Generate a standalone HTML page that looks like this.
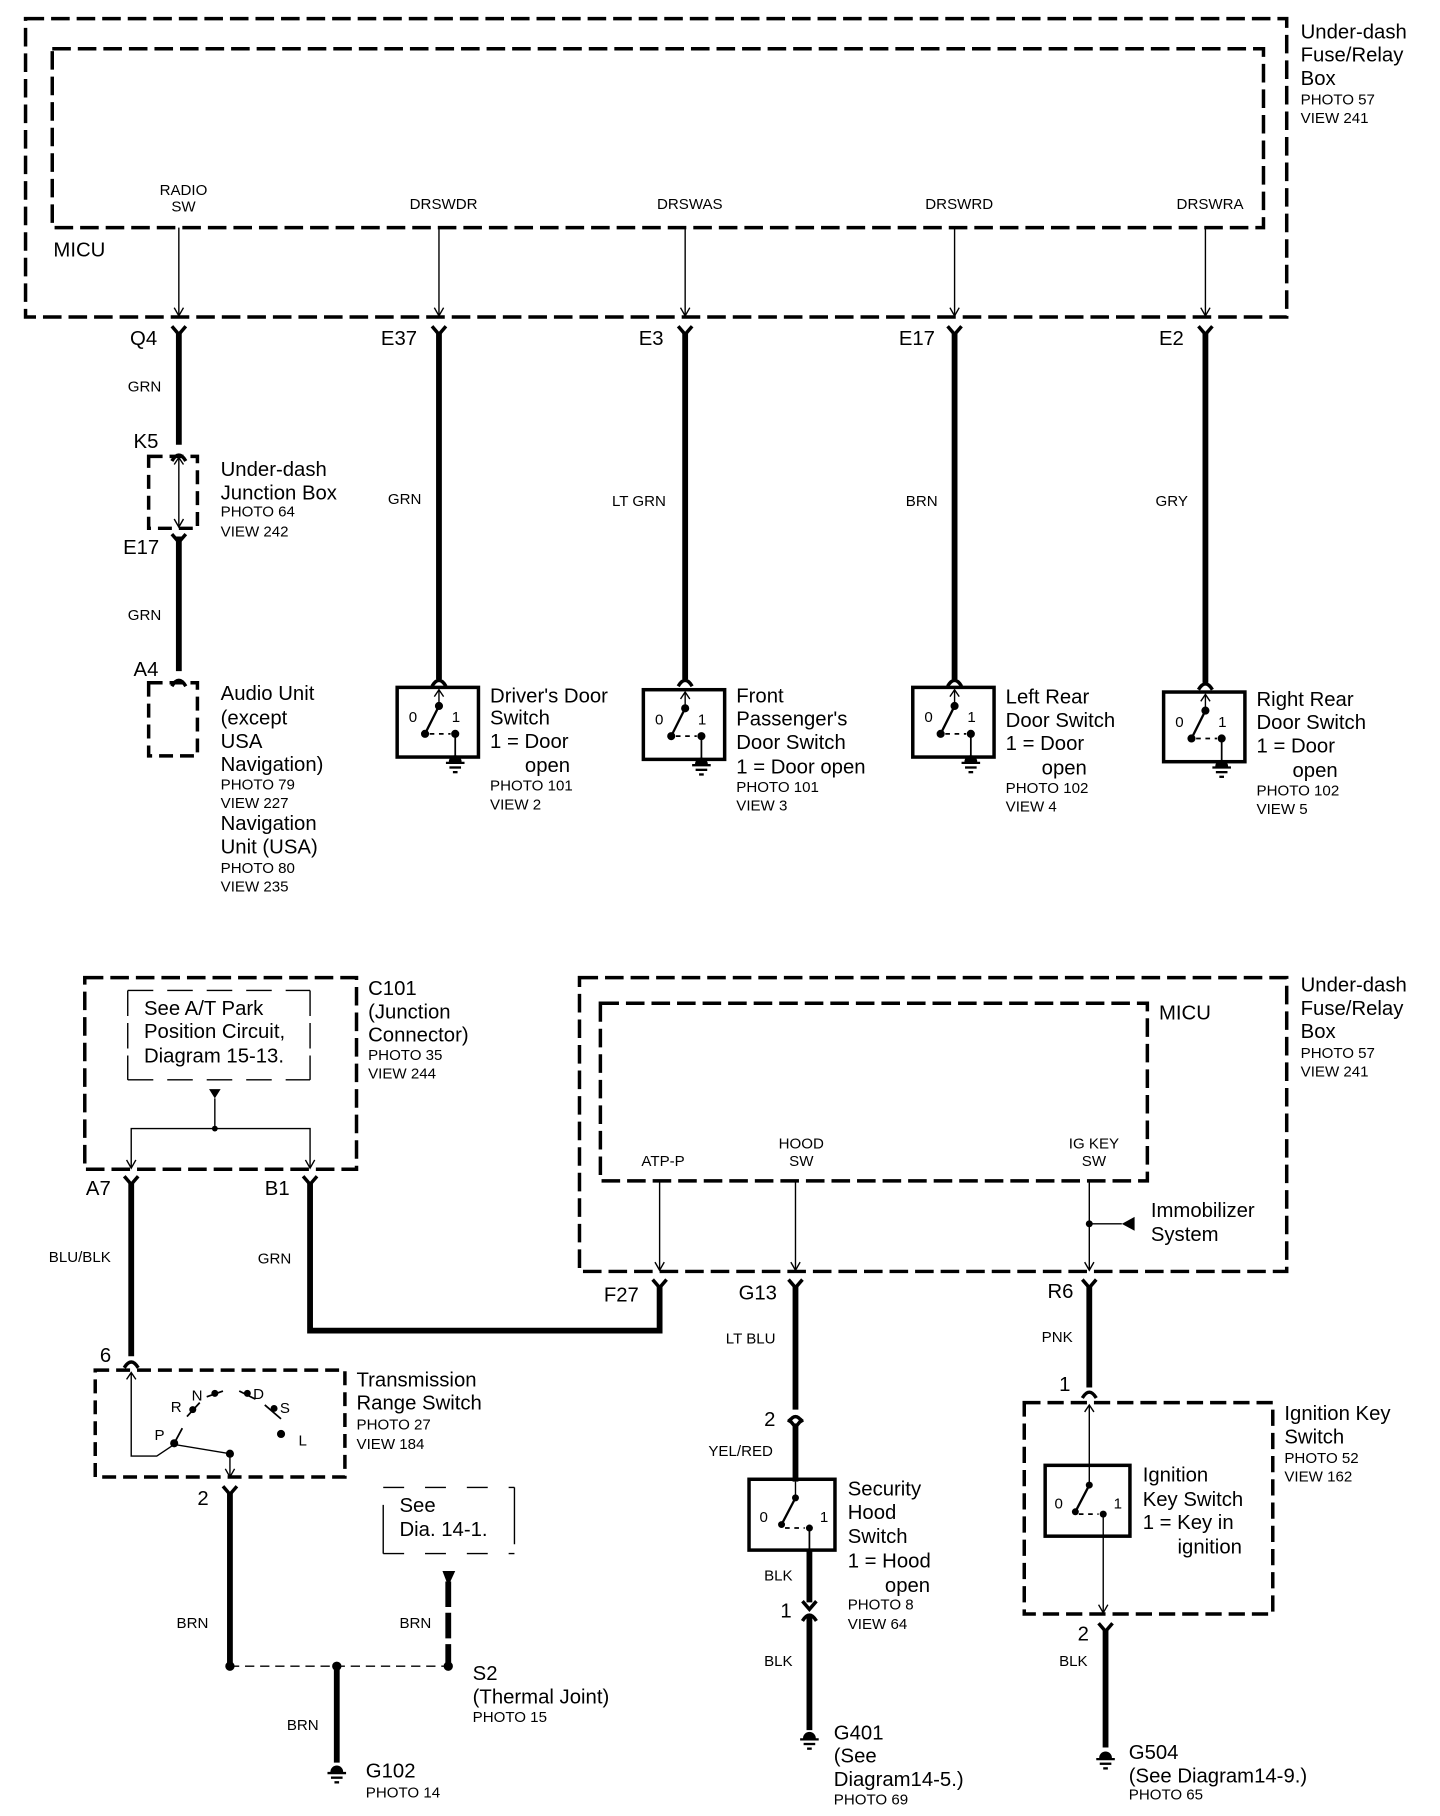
<!DOCTYPE html>
<html><head><meta charset="utf-8"><style>
html,body{margin:0;padding:0;background:#fff}
svg{display:block}
text{font-family:"Liberation Sans",Arial,sans-serif;fill:#000}
.b{font-size:17.5px}
.s{font-size:13px}
.w{font-size:13px}
</style></head><body>
<svg width="1440" height="1816" viewBox="0 0 1240 1564" preserveAspectRatio="none" xmlns="http://www.w3.org/2000/svg">
<defs>
<g id="sw" fill="none" stroke="#000">
<rect x="0" y="0" width="70" height="60" stroke-width="3"/>
<line x1="36" y1="2" x2="36" y2="16" stroke-width="1.2"/>
<path d="M32 8 L36 2 L40 8" stroke-width="1.2"/>
<circle cx="36" cy="16" r="3" fill="#000"/>
<line x1="36" y1="16" x2="24" y2="40" stroke-width="2"/>
<circle cx="24" cy="40" r="3" fill="#000"/>
<line x1="28" y1="40" x2="46" y2="40" stroke-width="1.5" stroke-dasharray="4 4"/>
<circle cx="50" cy="40" r="3" fill="#000"/>
<line x1="50" y1="40" x2="50" y2="62" stroke-width="1.5"/>
</g>
<g id="gnd" stroke="#000" fill="#000">
<path d="M-5 4 A5 5 0 0 1 5 4 Z"/>
<line x1="-8" y1="5" x2="8" y2="5" stroke-width="2"/>
<line x1="-5" y1="9" x2="5" y2="9" stroke-width="2"/>
<line x1="-2" y1="13" x2="2" y2="13" stroke-width="2"/>
</g>
<g id="fY" fill="none" stroke="#000" stroke-width="3"><path d="M-6 -6 L0 1 L6 -6"/></g>
<g id="cap" fill="none" stroke="#000" stroke-width="3"><path d="M-6 6 Q0 -4 6 6"/></g>
<g id="arr" fill="none" stroke="#000" stroke-width="1.2"><path d="M-4 -7 L0 0 L4 -7"/></g>
</defs>

<!-- TOP SECTION -->
<g fill="none" stroke="#000" stroke-width="3" stroke-dasharray="16 6">
<rect x="22" y="16" width="1086" height="257"/>
<rect x="45" y="42" width="1043" height="154"/>
</g>
<text class="b" x="1120" y="33">Under-dash</text>
<text class="b" x="1120" y="53">Fuse/Relay</text>
<text class="b" x="1120" y="73">Box</text>
<text class="s" x="1120" y="90">PHOTO 57</text>
<text class="s" x="1120" y="106">VIEW 241</text>
<text class="b" x="46" y="221">MICU</text>
<g class="s" text-anchor="middle">
<text x="158" y="168">RADIO</text><text x="158" y="182">SW</text>
<text x="382" y="180">DRSWDR</text>
<text x="594" y="180">DRSWAS</text>
<text x="826" y="180">DRSWRD</text>
<text x="1042" y="180">DRSWRA</text>
</g>
<g stroke="#000" stroke-width="1.2">
<line x1="154" y1="196" x2="154" y2="272"/><line x1="378" y1="196" x2="378" y2="272"/>
<line x1="590" y1="196" x2="590" y2="272"/><line x1="822" y1="196" x2="822" y2="272"/>
<line x1="1038" y1="196" x2="1038" y2="272"/>
</g>
<use href="#arr" x="154" y="272"/><use href="#arr" x="378" y="272"/><use href="#arr" x="590" y="272"/><use href="#arr" x="822" y="272"/><use href="#arr" x="1038" y="272"/>
<use href="#fY" x="154" y="287"/><use href="#fY" x="378" y="287"/><use href="#fY" x="590" y="287"/><use href="#fY" x="822" y="287"/><use href="#fY" x="1038" y="287"/>
<g class="b"><text x="112" y="297">Q4</text><text x="328" y="297">E37</text><text x="550" y="297">E3</text><text x="774" y="297">E17</text><text x="998" y="297">E2</text></g>
<g stroke="#000" stroke-width="5">
<line x1="154" y1="287" x2="154" y2="383"/>
<line x1="154" y1="462" x2="154" y2="578"/>
<line x1="378" y1="287" x2="378" y2="585"/>
<line x1="590" y1="287" x2="590" y2="585"/>
<line x1="822" y1="287" x2="822" y2="585"/>
<line x1="1038" y1="287" x2="1038" y2="588"/>
</g>
<g class="w">
<text x="110" y="337">GRN</text><text x="110" y="534">GRN</text>
<text x="334" y="434">GRN</text><text x="527" y="436">LT GRN</text>
<text x="780" y="436">BRN</text><text x="995" y="436">GRY</text>
</g>
<!-- junction box -->
<text class="b" x="115" y="386">K5</text>
<use href="#cap" x="154" y="391"/>
<rect x="128" y="393" width="42" height="62" fill="none" stroke="#000" stroke-width="3" stroke-dasharray="12 6"/>
<line x1="154" y1="394" x2="154" y2="454" stroke="#000" stroke-width="1.2"/>
<path d="M150 400 L154 394 L158 400" fill="none" stroke="#000" stroke-width="1.2"/>
<use href="#arr" x="154" y="454"/>
<use href="#fY" x="154" y="466"/>
<text class="b" x="106" y="477">E17</text>
<text class="b" x="190" y="410">Under-dash</text><text class="b" x="190" y="430">Junction Box</text>
<text class="s" x="190" y="445">PHOTO 64</text><text class="s" x="190" y="462">VIEW 242</text>
<!-- audio -->
<text class="b" x="115" y="582">A4</text>
<use href="#cap" x="154" y="585"/>
<rect x="128" y="588" width="42" height="63" fill="none" stroke="#000" stroke-width="3" stroke-dasharray="12 6"/>
<g class="b"><text x="190" y="603">Audio Unit</text><text x="190" y="624">(except</text><text x="190" y="644">USA</text><text x="190" y="664">Navigation)</text></g>
<text class="s" x="190" y="680">PHOTO 79</text><text class="s" x="190" y="696">VIEW 227</text>
<text class="b" x="190" y="715">Navigation</text><text class="b" x="190" y="735">Unit (USA)</text>
<text class="s" x="190" y="752">PHOTO 80</text><text class="s" x="190" y="768">VIEW 235</text>
<!-- door switches -->
<use href="#cap" x="378" y="585"/><use href="#sw" x="342" y="592"/><use href="#gnd" x="392" y="652"/>
<use href="#cap" x="590" y="585"/><use href="#sw" x="554" y="594"/><use href="#gnd" x="604" y="654"/>
<use href="#cap" x="822" y="585"/><use href="#sw" x="786" y="592"/><use href="#gnd" x="836" y="652"/>
<use href="#cap" x="1038" y="588"/><use href="#sw" x="1002" y="596"/><use href="#gnd" x="1052" y="656"/>
<g class="w"><text x="352" y="622">0</text><text x="389" y="622">1</text>
<text x="564" y="624">0</text><text x="601" y="624">1</text>
<text x="796" y="622">0</text><text x="833" y="622">1</text>
<text x="1012" y="626">0</text><text x="1049" y="626">1</text></g>
<g class="b">
<text x="422" y="605">Driver's Door</text><text x="422" y="624">Switch</text><text x="422" y="644">1 = Door</text><text x="452" y="665">open</text>
<text x="634" y="605">Front</text><text x="634" y="625">Passenger's</text><text x="634" y="645">Door Switch</text><text x="634" y="666">1 = Door open</text>
<text x="866" y="606">Left Rear</text><text x="866" y="626">Door Switch</text><text x="866" y="646">1 = Door</text><text x="897" y="667">open</text>
<text x="1082" y="608">Right Rear</text><text x="1082" y="628">Door Switch</text><text x="1082" y="648">1 = Door</text><text x="1113" y="669">open</text>
</g>
<g class="s">
<text x="422" y="681">PHOTO 101</text><text x="422" y="697">VIEW 2</text>
<text x="634" y="682">PHOTO 101</text><text x="634" y="698">VIEW 3</text>
<text x="866" y="683">PHOTO 102</text><text x="866" y="699">VIEW 4</text>
<text x="1082" y="685">PHOTO 102</text><text x="1082" y="701">VIEW 5</text>
</g>

<!-- BOTTOM LEFT: C101 -->
<rect x="73" y="842" width="234" height="165" fill="none" stroke="#000" stroke-width="3" stroke-dasharray="16 6"/>
<path d="M110 853 V930 M267 853 V930" stroke="#000" stroke-width="1.2" stroke-dasharray="22 6" fill="none"/>
<path d="M110 853 H267 M110 930 H267" stroke="#000" stroke-width="1.2" stroke-dasharray="22 12" fill="none"/>
<text class="b" x="124" y="874">See A/T Park</text><text class="b" x="124" y="894">Position Circuit,</text><text class="b" x="124" y="915">Diagram 15-13.</text>
<path d="M180 938 H190 L185 946 Z" fill="#000"/>
<path d="M185 946 V972 M113 1005 V972 H267 V1005" stroke="#000" stroke-width="1.2" fill="none"/>
<circle cx="185" cy="972" r="2.5" fill="#000"/>
<use href="#arr" x="113" y="1006"/><use href="#arr" x="267" y="1006"/>
<text class="b" x="317" y="857">C101</text><text class="b" x="317" y="877">(Junction</text><text class="b" x="317" y="897">Connector)</text>
<text class="s" x="317" y="913">PHOTO 35</text><text class="s" x="317" y="929">VIEW 244</text>
<use href="#fY" x="113" y="1019"/><use href="#fY" x="267" y="1019"/>
<text class="b" x="74" y="1029">A7</text><text class="b" x="228" y="1029">B1</text>
<g stroke="#000" stroke-width="5" fill="none">
<line x1="113" y1="1019" x2="113" y2="1168"/>
<path d="M267 1019 V1146 H568 V1108"/>
</g>
<text class="w" x="42" y="1087">BLU/BLK</text><text class="w" x="222" y="1088">GRN</text>
<!-- transmission -->
<text class="b" x="86" y="1173">6</text>
<use href="#cap" x="113" y="1172"/>
<rect x="82" y="1180" width="215" height="92" fill="none" stroke="#000" stroke-width="3" stroke-dasharray="12 6"/>
<path d="M109 1188 L113 1182 L117 1188 M113 1182 V1254 H135 L150 1244 L198 1252 V1271" stroke="#000" stroke-width="1.2" fill="none"/>
<use href="#arr" x="198" y="1272"/>
<g fill="#000"><circle cx="150" cy="1243" r="3.5"/><circle cx="166" cy="1214" r="3"/><circle cx="185" cy="1200" r="3"/><circle cx="213" cy="1200" r="3"/><circle cx="236" cy="1213" r="3"/><circle cx="242" cy="1235" r="3.5"/><circle cx="198" cy="1252" r="3.5"/></g>
<path d="M150 1243 L157 1230 M161 1220 L172 1208 M178 1203 L192 1198 M206 1198 L220 1205 M228 1210 L242 1222" stroke="#000" stroke-width="1.5"/>
<g class="w"><text x="133" y="1240">P</text><text x="147" y="1216">R</text><text x="165" y="1206">N</text><text x="218" y="1205">D</text><text x="241" y="1217">S</text><text x="257" y="1245">L</text></g>
<text class="b" x="307" y="1194">Transmission</text><text class="b" x="307" y="1214">Range Switch</text>
<text class="s" x="307" y="1231">PHOTO 27</text><text class="s" x="307" y="1248">VIEW 184</text>
<use href="#fY" x="198" y="1286"/>
<text class="b" x="170" y="1296">2</text>
<line x1="198" y1="1286" x2="198" y2="1435" stroke="#000" stroke-width="5"/>
<text class="w" x="152" y="1402">BRN</text>
<!-- see dia -->
<path d="M330 1281 H443 M330 1338 H443" stroke="#000" stroke-width="1.2" stroke-dasharray="18 18" fill="none"/>
<path d="M330 1296 V1338 M443 1281 V1330" stroke="#000" stroke-width="1.2" fill="none"/>
<text class="b" x="344" y="1302">See</text><text class="b" x="344" y="1323">Dia. 14-1.</text>
<path d="M381 1353 H392 L386 1366 Z" fill="#000"/>
<line x1="386" y1="1362" x2="386" y2="1435" stroke="#000" stroke-width="5" stroke-dasharray="22 5"/>
<text class="w" x="344" y="1402">BRN</text>
<line x1="198" y1="1435" x2="386" y2="1435" stroke="#000" stroke-width="1.2" stroke-dasharray="8 5"/>
<g fill="#000"><circle cx="198" cy="1435" r="4"/><circle cx="290" cy="1435" r="4"/><circle cx="386" cy="1435" r="4"/></g>
<line x1="290" y1="1435" x2="290" y2="1518" stroke="#000" stroke-width="5"/>
<text class="w" x="247" y="1490">BRN</text>
<use href="#gnd" x="290" y="1522"/>
<text class="b" x="315" y="1531">G102</text><text class="s" x="315" y="1548">PHOTO 14</text>
<text class="b" x="407" y="1447">S2</text><text class="b" x="407" y="1467">(Thermal Joint)</text><text class="s" x="407" y="1483">PHOTO 15</text>

<!-- BOTTOM RIGHT MICU -->
<g fill="none" stroke="#000" stroke-width="3" stroke-dasharray="16 6">
<rect x="499" y="842" width="609" height="253"/>
<rect x="517" y="864" width="471" height="153"/>
</g>
<text class="b" x="998" y="878">MICU</text>
<text class="b" x="1120" y="854">Under-dash</text><text class="b" x="1120" y="874">Fuse/Relay</text><text class="b" x="1120" y="894">Box</text>
<text class="s" x="1120" y="911">PHOTO 57</text><text class="s" x="1120" y="927">VIEW 241</text>
<g class="s" text-anchor="middle">
<text x="571" y="1004">ATP-P</text>
<text x="690" y="989">HOOD</text><text x="690" y="1004">SW</text>
<text x="942" y="989">IG KEY</text><text x="942" y="1004">SW</text>
</g>
<g stroke="#000" stroke-width="1.2"><line x1="568" y1="1017" x2="568" y2="1094"/><line x1="685" y1="1017" x2="685" y2="1094"/><line x1="938" y1="1017" x2="938" y2="1094"/><line x1="938" y1="1054" x2="966" y2="1054"/></g>
<circle cx="938" cy="1054" r="3" fill="#000"/>
<path d="M966 1054 L977 1048 V1060 Z" fill="#000"/>
<text class="b" x="991" y="1048">Immobilizer</text><text class="b" x="991" y="1069">System</text>
<use href="#arr" x="568" y="1094"/><use href="#arr" x="685" y="1094"/><use href="#arr" x="938" y="1094"/>
<use href="#fY" x="568" y="1108"/><use href="#fY" x="685" y="1108"/><use href="#fY" x="938" y="1108"/>
<text class="b" x="520" y="1121">F27</text><text class="b" x="636" y="1119">G13</text><text class="b" x="902" y="1118">R6</text>
<g stroke="#000" stroke-width="5">
<line x1="685" y1="1108" x2="685" y2="1214"/>
<line x1="685" y1="1226" x2="685" y2="1276"/>
<line x1="938" y1="1108" x2="938" y2="1195"/>
<line x1="697" y1="1335" x2="697" y2="1380"/>
<line x1="697" y1="1392" x2="697" y2="1490"/>
<line x1="952" y1="1404" x2="952" y2="1505"/>
</g>
<text class="w" x="625" y="1157">LT BLU</text><text class="w" x="897" y="1156">PNK</text>
<text class="b" x="658" y="1228">2</text>
<use href="#cap" x="685" y="1219"/><use href="#fY" x="685" y="1228"/>
<text class="w" x="610" y="1254">YEL/RED</text>
<!-- security hood switch -->
<rect x="645" y="1274" width="74" height="61" fill="none" stroke="#000" stroke-width="3"/>
<g stroke="#000" fill="none">
<line x1="685" y1="1276" x2="685" y2="1290" stroke-width="1.2"/>
<line x1="685" y1="1290" x2="673" y2="1313" stroke-width="2"/>
<line x1="676" y1="1316" x2="693" y2="1316" stroke-width="1.5" stroke-dasharray="4 4"/>
<line x1="697" y1="1316" x2="697" y2="1335" stroke-width="1.5"/>
</g>
<g fill="#000"><circle cx="685" cy="1290" r="3"/><circle cx="673" cy="1313" r="3"/><circle cx="697" cy="1316" r="3"/></g>
<text class="w" x="654" y="1311">0</text><text class="w" x="706" y="1311">1</text>
<text class="b" x="730" y="1288">Security</text><text class="b" x="730" y="1308">Hood</text><text class="b" x="730" y="1329">Switch</text>
<text class="b" x="730" y="1350">1 = Hood</text><text class="b" x="762" y="1371">open</text>
<text class="s" x="730" y="1386">PHOTO 8</text><text class="s" x="730" y="1403">VIEW 64</text>
<text class="w" x="658" y="1361">BLK</text>
<text class="b" x="672" y="1393">1</text>
<use href="#fY" x="697" y="1385"/><use href="#cap" x="697" y="1390"/>
<text class="w" x="658" y="1435">BLK</text>
<use href="#gnd" x="697" y="1493"/>
<text class="b" x="718" y="1498">G401</text><text class="b" x="718" y="1518">(See</text><text class="b" x="718" y="1538">Diagram14-5.)</text>
<text class="s" x="718" y="1554">PHOTO 69</text>
<!-- ignition key switch -->
<text class="b" x="912" y="1198">1</text>
<use href="#cap" x="938" y="1198"/>
<rect x="882" y="1208" width="214" height="182" fill="none" stroke="#000" stroke-width="3" stroke-dasharray="14 6"/>
<rect x="900" y="1262" width="73" height="61" fill="none" stroke="#000" stroke-width="3"/>
<g stroke="#000" fill="none">
<path d="M934 1216 L938 1210 L942 1216 M938 1210 V1279" stroke-width="1.2"/>
<line x1="938" y1="1279" x2="926" y2="1302" stroke-width="2"/>
<line x1="929" y1="1304" x2="946" y2="1304" stroke-width="1.5" stroke-dasharray="4 4"/>
<line x1="950" y1="1304" x2="950" y2="1388" stroke-width="1.2"/>
</g>
<use href="#arr" x="950" y="1389"/>
<g fill="#000"><circle cx="938" cy="1279" r="3"/><circle cx="926" cy="1302" r="3"/><circle cx="950" cy="1304" r="3"/></g>
<text class="w" x="908" y="1299">0</text><text class="w" x="959" y="1299">1</text>
<text class="b" x="984" y="1276">Ignition</text><text class="b" x="984" y="1297">Key Switch</text><text class="b" x="984" y="1317">1 = Key in</text><text class="b" x="1014" y="1338">ignition</text>
<text class="b" x="1106" y="1223">Ignition Key</text><text class="b" x="1106" y="1243">Switch</text>
<text class="s" x="1106" y="1260">PHOTO 52</text><text class="s" x="1106" y="1276">VIEW 162</text>
<use href="#fY" x="952" y="1404"/>
<text class="b" x="928" y="1413">2</text>
<text class="w" x="912" y="1435">BLK</text>
<use href="#gnd" x="952" y="1510"/>
<text class="b" x="972" y="1515">G504</text><text class="b" x="972" y="1535">(See Diagram14-9.)</text>
<text class="s" x="972" y="1550">PHOTO 65</text>
</svg>
</body></html>
